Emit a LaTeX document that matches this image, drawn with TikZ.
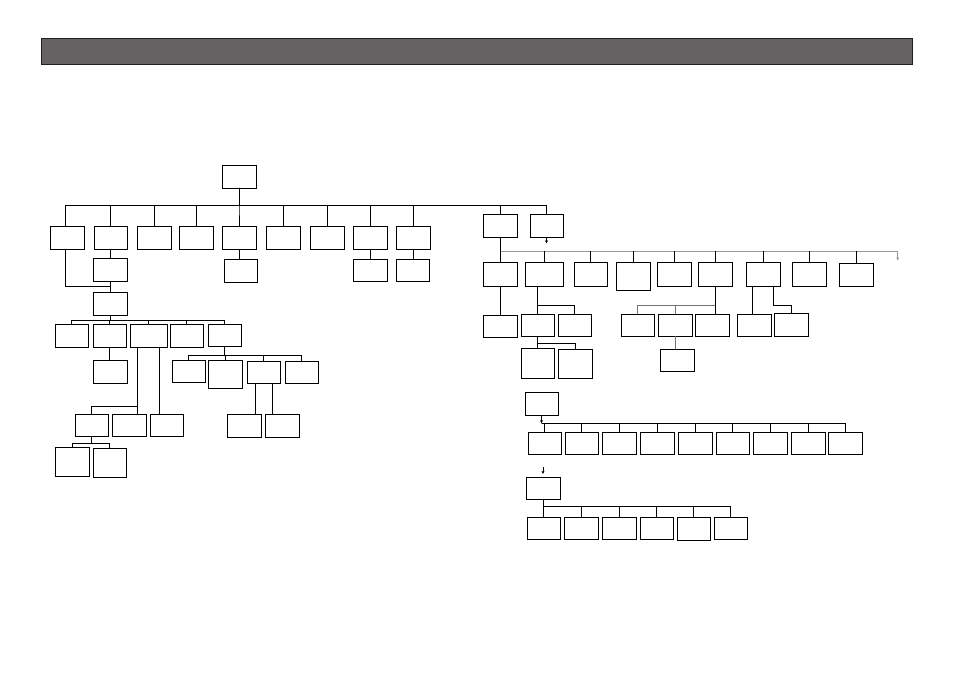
\documentclass[tikz,border=0pt]{standalone}
\usetikzlibrary{arrows.meta,calc}
\begin{document}
\begin{tikzpicture}[x=1pt,y=-1pt,
  bx/.style={draw=black,line width=0.9pt,inner sep=0pt,outer sep=0pt,rectangle},
  ln/.style={draw=black,line width=0.8pt},
  gln/.style={draw=black!40,line width=0.8pt},
  gln2/.style={draw=black!55,line width=0.8pt},
  tip/.style={-{Stealth[length=3.2pt,width=3pt]}}]
\newcommand\Bx[5]{\node[bx,minimum width={(#4-#2)*1pt},minimum height={(#5-#3)*1pt}] (#1) at ({(#2+#4)/2},{(#3+#5)/2}) {};}
\useasboundingbox (0,0) rectangle (954,674);
% header bar
\node[draw={rgb,255:red,35;green,31;blue,32},fill={rgb,255:red,100;green,98;blue,98},line width=0.8pt,inner sep=0pt,minimum width=871pt,minimum height=26pt] (hdr) at (476.5,51) {};
% bus levels
\coordinate (bTop) at (0,205.3);
\coordinate (bR1) at (0,286.3);
\coordinate (bA) at (0,320.5);
\coordinate (bC) at (0,406.3);
\coordinate (bF) at (0,443.3);
\coordinate (bE) at (0,355.3);
\coordinate (bG) at (0,251.3);
\coordinate (bS) at (0,305.3);
\coordinate (bT) at (0,343.3);
\coordinate (bB1) at (0,423.3);
\coordinate (bB2) at (0,506.3);
% left tree boxes
\Bx{top}{222}{165}{256}{188}
\Bx{r1}{50}{226}{84}{249}
\Bx{r2}{94}{226}{127}{249}
\Bx{r3}{137}{226}{171}{249}
\Bx{r4}{179}{226}{213}{249}
\Bx{r5}{222}{226}{256}{249}
\Bx{r6}{266}{226}{300}{249}
\Bx{r7}{310}{226}{344}{249}
\Bx{r8}{353}{226}{387}{249}
\Bx{r9}{396}{226}{430}{249}
\Bx{q2}{93}{258}{127}{281}
\Bx{q5}{224}{259}{257}{282}
\Bx{q8}{353}{259}{387}{281}
\Bx{q9}{396}{259}{429}{281}
\Bx{A}{93}{292}{127}{315}
\Bx{La}{55}{324}{88}{347}
\Bx{Lb}{93}{324}{126}{347}
\Bx{Lc}{130}{324}{167}{347}
\Bx{Ld}{170}{324}{203}{347}
\Bx{Le}{208}{324}{241}{346}
\Bx{bb}{93}{360}{127}{383}
\Bx{f}{75}{414}{108}{436}
\Bx{g}{112}{414}{146}{436}
\Bx{h}{150}{414}{183}{436}
\Bx{i}{55}{447}{89}{476}
\Bx{j}{93}{448}{126}{477}
\Bx{k}{172}{360}{205}{382}
\Bx{l}{208}{360}{242}{388}
\Bx{m}{247}{361}{280}{383}
\Bx{n}{285}{361}{318}{383}
\Bx{o}{227}{414}{261}{437}
\Bx{p}{265}{414}{299}{437}
% right tree boxes
\Bx{R1}{483}{214}{517}{237}
\Bx{R2}{530}{214}{563}{237}
\Bx{s1}{483}{262}{517}{286}
\Bx{s2}{525}{262}{563}{286}
\Bx{s3}{574}{262}{607}{286}
\Bx{s4}{616}{262}{650}{290}
\Bx{s5}{657}{262}{691}{286}
\Bx{s6}{698}{262}{732}{286}
\Bx{s7}{746}{262}{780}{286}
\Bx{s8}{792}{262}{826}{286}
\Bx{s9}{839}{263}{873}{286}
\Bx{t0}{483}{315}{517}{337}
\Bx{t1}{521}{314}{554}{336}
\Bx{t2}{558}{314}{591}{336}
\Bx{u1}{521}{348}{554}{378}
\Bx{u2}{558}{349}{592}{378}
\Bx{v1}{621}{314}{654}{336}
\Bx{v2}{658}{314}{692}{336}
\Bx{v3}{695}{314}{729}{336}
\Bx{w}{660}{349}{694}{371}
\Bx{x1}{737}{314}{771}{336}
\Bx{x2}{774}{313}{808}{336}
\Bx{B1}{525}{392}{558}{415}
\Bx{c1}{528}{432}{561}{454}
\Bx{c2}{565}{432}{598}{454}
\Bx{c3}{602}{432}{636}{454}
\Bx{c4}{640}{432}{674}{454}
\Bx{c5}{678}{432}{712}{454}
\Bx{c6}{716}{432}{749}{454}
\Bx{c7}{753}{432}{787}{454}
\Bx{c8}{791}{432}{825}{454}
\Bx{c9}{828}{432}{862}{454}
\Bx{B2}{526}{477}{560}{499}
\Bx{d1}{527}{517}{560}{539}
\Bx{d2}{564}{517}{598}{539}
\Bx{d3}{602}{517}{636}{539}
\Bx{d4}{640}{517}{673}{539}
\Bx{d5}{677}{517}{710}{540}
\Bx{d6}{714}{517}{747}{539}
% left connectors
\coordinate (r1n) at ([xshift=-2pt]r1.north);
\coordinate (r1s) at ([xshift=-2pt]r1.south);
\draw[ln] (top.south) -- (top.south |- bTop) -| (r1n);
\foreach \c in {r2,r3,r4,r5,r6,r7,r8,r9,R1,R2}
  \draw[ln] (top.south) -- (top.south |- bTop) -| (\c.north);
\foreach \a/\b in {r2/q2,r5/q5,r8/q8,r9/q9,q2/A,Lb/bb}
  \draw[ln] (\a.south) -- (\a.south |- \b.north);
\draw[ln] (r1s) |- (A.north |- bR1);
\foreach \c in {La,Lb,Lc,Ld,Le}
  \draw[ln] (A.south) -- (A.south |- bA) -| (\c.north);
\coordinate (cL) at ([xshift=-11.2pt]Lc.south);
\coordinate (cR) at ([xshift=10.8pt]Lc.south);
\draw[ln] (cL) -- (cL |- g.north);
\draw[ln] (cL |- bC) -| (f.north);
\draw[ln] (cR) -- (cR |- h.north);
\foreach \c in {i,j}
  \draw[ln] (f.south) -- (f.south |- bF) -| (\c.north);
\foreach \c in {k,l,m,n}
  \draw[ln] (Le.south) -- (Le.south |- bE) -| (\c.north);
\draw[ln] ([xshift=-8.2pt]m.south) -- ([xshift=-8.2pt]m.south |- o.north);
\draw[ln] ([xshift=8.8pt]m.south) -- ([xshift=8.8pt]m.south |- p.north);
% right connectors
\coordinate (aR2) at ([yshift=-6.5pt]R2.south);
\draw[ln,tip] (R2.south) -- (aR2);
\coordinate (gEnd) at (897.7,251.3);
\coordinate (gTip) at (897.7,260.5);
\draw[gln] (R1.south |- bG) -- (gEnd);
\draw[gln,tip] (gEnd) -- (gTip);
\draw[ln] (R1.south) -- (s1.north);
\foreach \c in {s2,s3,s4,s5,s6,s7,s8,s9}
  \draw[ln] (\c.north |- bG) -- (\c.north);
\draw[ln] (s1.south) -- (t0.north);
\coordinate (s2L) at ([xshift=-6.3pt]s2.south);
\draw[ln] (s2L) -- (s2L |- t1.north);
\draw[ln] (s2L |- bS) -| (t2.north);
\foreach \c in {u1,u2}
  \draw[ln] (t1.south) -- (t1.south |- bT) -| (\c.north);
\draw[ln] (s6.south) -- (s6.south |- v3.north);
\draw[gln2] (s6.south |- bS) -| (v1.north);
\draw[gln2] (s6.south |- bS) -| (v2.north);
\draw[gln2] (v2.south) -- (v2.south |- w.north);
\coordinate (s7L) at ([xshift=-10.7pt]s7.south);
\coordinate (s7R) at ([xshift=10.3pt]s7.south);
\draw[ln] (s7L) -- (s7L |- x1.north);
\draw[ln] (s7R) |- ($(x2.north |- bS)$) -- (x2.north);
\draw[ln,tip] (B1.south) -- (B1.south |- bB1);
\foreach \c in {c1,c2,c3,c4,c5,c6,c7,c8,c9}
  \draw[ln] (B1.south |- bB1) -| (\c.north);
\coordinate (aB2s) at ([yshift=10pt]B2.north);
\coordinate (aB2e) at ([yshift=3pt]B2.north);
\draw[ln,tip] (aB2s) -- (aB2e);
\foreach \c in {d1,d2,d3,d4,d5,d6}
  \draw[ln] (B2.south) -- (B2.south |- bB2) -| (\c.north);
\end{tikzpicture}
\end{document}
